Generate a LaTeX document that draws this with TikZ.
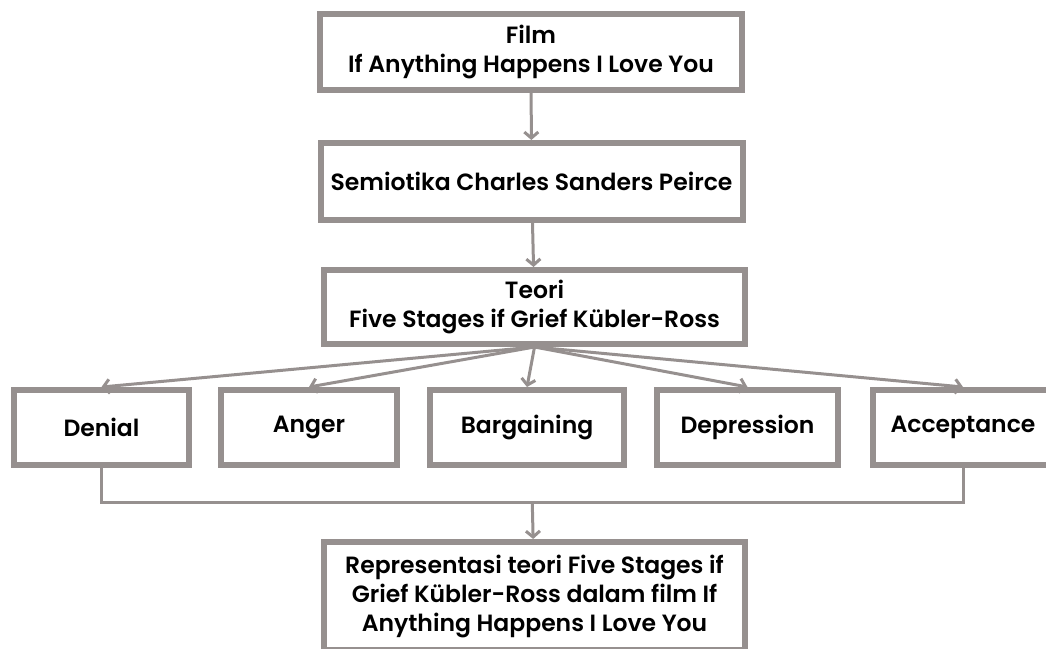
\documentclass[tikz,border=0pt]{standalone}
\usepackage{fontspec}
\setmainfont{Poppins}[BoldFont={Poppins SemiBold}]
\usetikzlibrary{calc,arrows.meta}
\definecolor{boxgray}{RGB}{150,144,143}

\begin{document}
\begin{tikzpicture}[x=1pt, y=-1pt,
    box/.style={draw=boxgray, line width=6pt, fill=white, align=center, inner sep=0pt,
      font=\fontsize{23.5}{29}\selectfont\bfseries},
    link/.style={draw=boxgray, line width=3pt, -{Straight Barb[length=6pt,width=14pt]}},
    joint/.style={draw=boxgray, line width=3pt}]
    \clip (0,0) rectangle (1046,648);

    % main chain
    \node[box, minimum width=422pt, minimum height=76pt] (film) at (531,52)
    {Film\\If Anything Happens I Love You};
    \node[box, minimum width=422pt, minimum height=77pt] (semio) at (531.5,181.5)
    {Semiotika Charles Sanders Peirce};
    \node[box, minimum width=421pt, minimum height=74pt] (teori) at (534.5,307)
    {Teori\\Five Stages if Grief K\"ubler-Ross};

    % five stages
    \node[box, minimum width=175pt, minimum height=75pt] (denial) at (101.5,427.5) {Denial};
    \node[box, minimum width=176pt, minimum height=75pt] (anger) at (309,427.5) {Anger};
    \node[box, minimum width=194pt, minimum height=75pt] (barg) at (527,427.5) {Bargaining};
    \node[box, minimum width=181pt, minimum height=75pt] (depr) at (747.5,427.5) {Depression};
    \node[box, minimum width=180pt, minimum height=75pt] (accept) at (963,427.5) {Acceptance};

    % result
    \node[box, minimum width=421pt, minimum height=108pt] (repr) at (534.5,596)
    {Representasi teori Five Stages if\\Grief K\"ubler-Ross dalam film If\\Anything Happens I Love You};

    \draw[link] (film) -- (semio);
    \draw[link] (semio) -- (teori);

    \foreach \s in {denial,anger,barg,depr,accept}
      \draw[link] (teori.south) -- (\s.north);

    % merge below the stages
    \coordinate (merge) at ($(denial.south)!.5!(accept.south) + (0,34)$);
    \draw[joint] (denial.south) -- ++(0,34) -| (accept.south);
    \draw[link] (merge) -- (repr);
\end{tikzpicture}
\end{document}
